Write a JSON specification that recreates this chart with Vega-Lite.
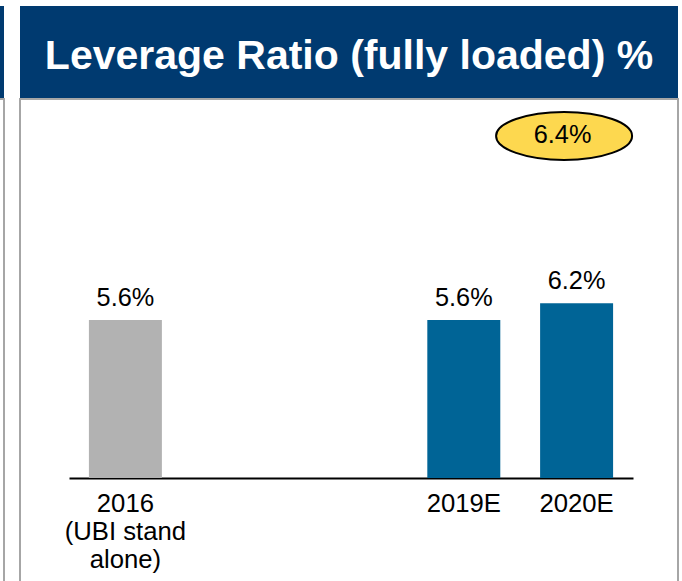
{
  "$schema": "https://vega.github.io/schema/vega-lite/v6.json",
  "padding": {"left": -57, "top": 6, "right": 3, "bottom": -19},
  "background": "white",
  "config": {"view": {"stroke": null}, "font": "Liberation Sans"},
  "spacing": 14,
  "hconcat": [
    {
      "spacing": 0,
      "vconcat": [
        {
          "width": 60, "height": 92,
          "view": {"fill": "#003a70", "stroke": null},
          "data": {"values": [{"t": ""}]},
          "mark": {"type": "text"},
          "encoding": {"text": {"field": "t"}}
        },
        {
          "width": 60, "height": 500,
          "view": {"stroke": "#a6a6a6", "strokeWidth": 2},
          "data": {"values": [{"t": ""}]},
          "mark": {"type": "text"},
          "encoding": {"text": {"field": "t"}}
        }
      ]
    },
    {
      "spacing": 0,
      "vconcat": [
        {
          "width": 658, "height": 92,
          "view": {"fill": "#003a70", "stroke": null},
          "data": {"values": [{"title": "Leverage Ratio (fully loaded) %"}]},
          "mark": {"type": "text", "font": "Liberation Sans", "fontSize": 41, "fontWeight": "bold", "color": "#ffffff", "baseline": "alphabetic", "align": "center", "dy": 17},
          "encoding": {"text": {"field": "title"}}
        },
        {
          "width": 658, "height": 500,
          "view": {"stroke": "#a6a6a6", "strokeWidth": 2},
          "data": {"values": [
            {"cat": "2016", "value": 5.6, "type": "stand alone", "label": "5.6%"},
            {"cat": "2019E", "value": 5.6, "type": "plan", "label": "5.6%"},
            {"cat": "2020E", "value": 6.2, "type": "plan", "label": "6.2%"}
          ]},
          "encoding": {
            "x": {
              "field": "cat", "type": "nominal", "sort": null,
              "scale": {"domain": ["2016", "gap1", "gap2", "2019E", "2020E"], "range": [49, 613], "paddingInner": 0.353, "paddingOuter": 0.1765},
              "axis": {
                "title": null, "orient": "bottom", "offset": -121, "ticks": false, "grid": false,
                "domainColor": "#000000", "domainWidth": 2,
                "labelFont": "Liberation Sans", "labelFontSize": 25.7, "labelColor": "#000000",
                "labelPadding": 13, "labelLineHeight": 28, "labelAngle": 0, "labelOverlap": false, "labelBound": false,
                "labelExpr": "datum.value == '2016' ? ['2016', '(UBI stand', 'alone)'] : (indexof(datum.value, 'gap') == 0 ? '' : datum.value)"
              }
            }
          },
          "layer": [
            {
              "mark": {"type": "bar"},
              "encoding": {
                "y": {"field": "value", "type": "quantitative", "scale": {"domain": [0, 13.44], "range": [379, 0], "nice": false, "zero": true}, "axis": null},
                "color": {"field": "type", "type": "nominal", "scale": {"domain": ["stand alone", "plan"], "range": ["#b2b2b2", "#006496"]}, "legend": null}
              }
            },
            {
              "mark": {"type": "text", "font": "Liberation Sans", "fontSize": 25.3, "color": "#000000", "baseline": "alphabetic", "dy": -14},
              "encoding": {
                "y": {"field": "value", "type": "quantitative", "axis": null},
                "text": {"field": "label"}
              }
            },
            {
              "data": {"values": [{"cat": "2020E", "label": "6.4%"}]},
              "mark": {"type": "point", "shape": "M-1,0A1,0.353,0,1,1,1,0A1,0.353,0,1,1,-1,0Z", "size": 18496, "filled": true, "fill": "#fdd84f", "stroke": "#000000", "strokeWidth": 2, "opacity": 1, "xOffset": -12.5},
              "encoding": {
                "y": {"datum": 12.13, "type": "quantitative", "axis": null}
              }
            },
            {
              "data": {"values": [{"cat": "2020E", "label": "6.4%"}]},
              "mark": {"type": "text", "font": "Liberation Sans", "fontSize": 25.3, "color": "#000000", "baseline": "middle", "xOffset": -14},
              "encoding": {
                "y": {"datum": 12.15, "type": "quantitative", "axis": null},
                "text": {"field": "label"}
              }
            }
          ]
        }
      ]
    }
  ]
}
